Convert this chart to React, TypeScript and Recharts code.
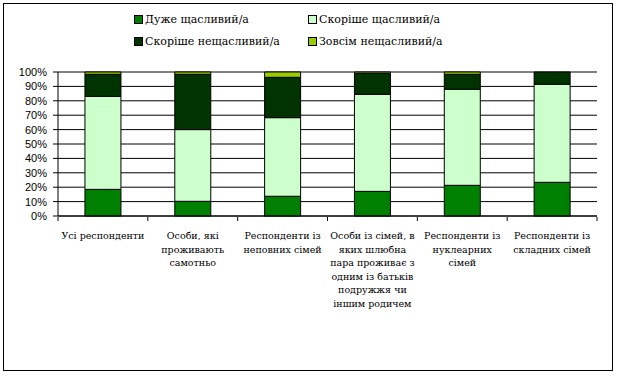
import { BarChart, Bar, XAxis, YAxis, CartesianGrid } from 'recharts';

const categories = [
  'Усі респонденти',
  'Особи, які\nпроживають\nсамотньо',
  'Респонденти із\nнеповних сімей',
  'Особи із сімей, в\nяких шлюбна\nпара проживає з\nодним із батьків\nподружжя чи\nіншим родичем',
  'Респонденти із\nнуклеарних\nсімей',
  'Респонденти із\nскладних сімей',
];

const veryHappy = [18.5, 10.2, 13.7, 17.1, 21.3, 23.4];
const ratherHappy = [64.6, 49.8, 54.6, 67.4, 66.7, 68.1];
const ratherUnhappy = [15.3, 38.4, 28.0, 14.6, 10.4, 8.5];
const veryUnhappy = [1.6, 1.6, 3.7, 0.9, 1.6, 0];

const seriesNames = ['Дуже щасливий/а', 'Скоріше щасливий/а', 'Скоріше нещасливий/а', 'Зовсім нещасливий/а'];
const seriesKeys = ['s1', 's2', 's3', 's4'];
const seriesColors = ['#008000', '#CCFFCC', '#003300', '#99CC00'];

const yTicks = [0, 10, 20, 30, 40, 50, 60, 70, 80, 90, 100];
const boundaryTicks = [0, 1, 2, 3, 4, 5, 6];

// only serif face that is actually installed
const SERIF = 'DejaVu Serif';

const data = categories.map((name, i) => ({
  name,
  idx: i + 0.5,
  s1: veryHappy[i],
  s2: ratherHappy[i],
  s3: ratherUnhappy[i],
  s4: veryUnhappy[i],
}));

function CategoryTick({ x, y, payload }: any) {
  const lines = String(payload.value).split('\n');
  return (
    <text x={x} y={y + 15} textAnchor="middle" fontFamily={SERIF} fontSize={9.5} fill="#000">
      {lines.map((l, i) => (
        <tspan key={i} x={x} dy={i === 0 ? 0 : 13.6}>{l}</tspan>
      ))}
    </text>
  );
}

export default function App() {
  return (
    <div style={{ position: 'absolute', left: 0, top: 0, width: 617, height: 379, background: '#fff' }}>
      <div style={{ position: 'absolute', left: 3, top: 3, width: 608, height: 366, border: '1px solid #000' }} />
      <div style={{ position: 'absolute', left: 0, top: 0, fontFamily: SERIF, fontSize: 11 }}>
        {seriesNames.map((n, i) => (
          <div
            key={n}
            style={{
              position: 'absolute',
              left: i % 2 === 0 ? 134 : 308,
              top: i < 2 ? 13 : 35,
              whiteSpace: 'nowrap',
              display: 'flex',
              alignItems: 'center',
            }}
          >
            <span style={{ display: 'inline-block', width: 7, height: 7, border: '1px solid #000', background: seriesColors[i], marginRight: 2 }} />
            {n}
          </div>
        ))}
      </div>
      <div style={{ position: 'absolute', left: 0, top: 0 }}>
        <BarChart width={617} height={379} data={data} margin={{ top: 72, right: 20, bottom: 161, left: 0 }} barCategoryGap="30%">
          <CartesianGrid vertical={false} stroke="#000" strokeWidth={1} />
          <XAxis
            xAxisId="b"
            type="number"
            dataKey="idx"
            domain={[0, 6]}
            ticks={boundaryTicks}
            interval={0}
            tick={{ fontSize: 0 }}
            tickFormatter={() => ''}
            tickSize={4}
            height={1}
            stroke="#000"
            axisLine={false}
          />
          <XAxis
            dataKey="name"
            height={1}
            interval={0}
            tickLine={false}
            axisLine={{ stroke: '#000' }}
            tick={<CategoryTick />}
          />
          <YAxis
            width={58}
            domain={[0, 100]}
            ticks={yTicks}
            interval={0}
            tickFormatter={(v) => `${v}%`}
            tickSize={5}
            tickMargin={6}
            stroke="#000"
            tick={{ fontSize: 11, fontFamily: 'Liberation Sans', fill: '#000' }}
          />
          {seriesKeys.map((k, i) => (
            <Bar key={k} dataKey={k} name={seriesNames[i]} stackId="a" fill={seriesColors[i]} stroke="#000" strokeWidth={1} isAnimationActive={false} />
          ))}
        </BarChart>
      </div>
    </div>
  );
}
